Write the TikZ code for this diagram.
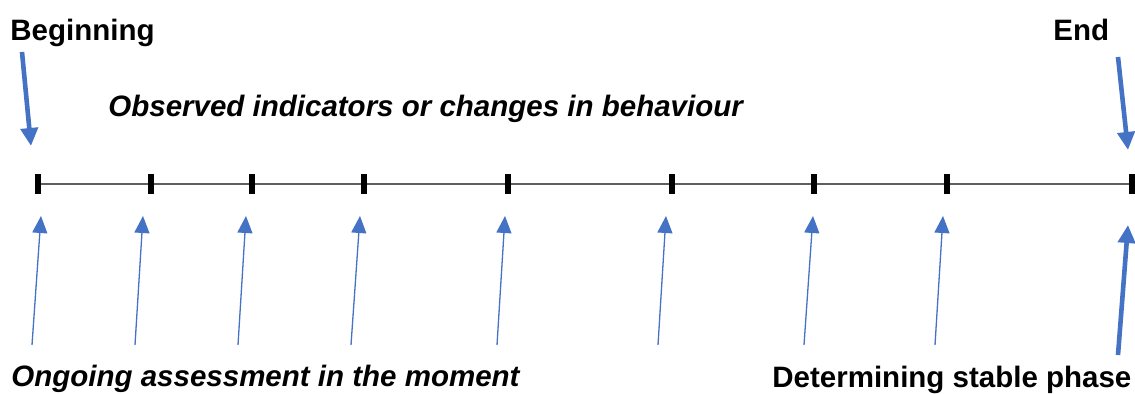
\documentclass[tikz,border=0pt]{standalone}
\usepackage{fontspec}
\setmainfont{Liberation Sans}
\usetikzlibrary{arrows.meta,positioning}
\definecolor{office}{RGB}{68,114,196}
\definecolor{rule}{RGB}{95,95,95}
\tikzset{
  tick/.style={fill=black,inner sep=0pt,minimum width=2.6pt,minimum height=10pt},
  axis/.style={draw=rule,line width=0.6pt},
  probe/.style={-{Triangle[length=8.5pt,width=7.5pt]},draw=office,line width=0.65pt},
  pointer/.style={-{Triangle[length=9pt,width=8.5pt]},draw=office,line width=2.3pt},
  heading/.style={font=\fontsize{14.75}{17}\selectfont\bfseries,inner sep=0pt},
  slanted/.style={font=\fontsize{14.75}{17}\selectfont\bfseries\itshape,inner sep=0pt},
}
\begin{document}
\begin{tikzpicture}[x=0.5pt,y=-0.5pt]
  \useasboundingbox (0,0) rectangle (1135,394);
  % timeline
  \foreach \x [count=\i] in {38,151,252,364,508,672,814,947,1132}
    \node[tick] (t\i) at (\x,184) {};
  \foreach \i [evaluate=\i as \j using int(\i+1)] in {1,...,8}
    \draw[axis] (t\i) -- (t\j);
  % assessment arrows
  \foreach \s/\h [count=\i] in {32/41,135/143,238/246,351/360,497/505,658/666,804/813,935/943}{
    \coordinate (s\i) at (\s,345);
    \coordinate (h\i) at (\h,216);
    \draw[probe] (s\i) -- (h\i);
  }
  % labels
  \node[heading,anchor=base west] (begin) at (10,41) {Beginning};
  \node[heading,anchor=base west] (finish) at (1053,41) {End};
  \node[slanted,anchor=base west] (obs) at (108,117) {Observed indicators or changes in behaviour};
  \node[slanted,anchor=base west] (ongoing) at (11,387) {Ongoing assessment in the moment};
  \node[heading,anchor=base west] (stable) at (772,388) {Determining stable phase};
  % start, end and stable phase
  \coordinate (b0) at (22,52);   \coordinate (b1) at (31,146);
  \coordinate (e0) at (1118,57); \coordinate (e1) at (1128,150);
  \coordinate (p0) at (1118,355); \coordinate (p1) at (1128,225);
  \draw[pointer] (b0) -- (b1);
  \draw[pointer] (e0) -- (e1);
  \draw[pointer] (p0) -- (p1);
\end{tikzpicture}
\end{document}
